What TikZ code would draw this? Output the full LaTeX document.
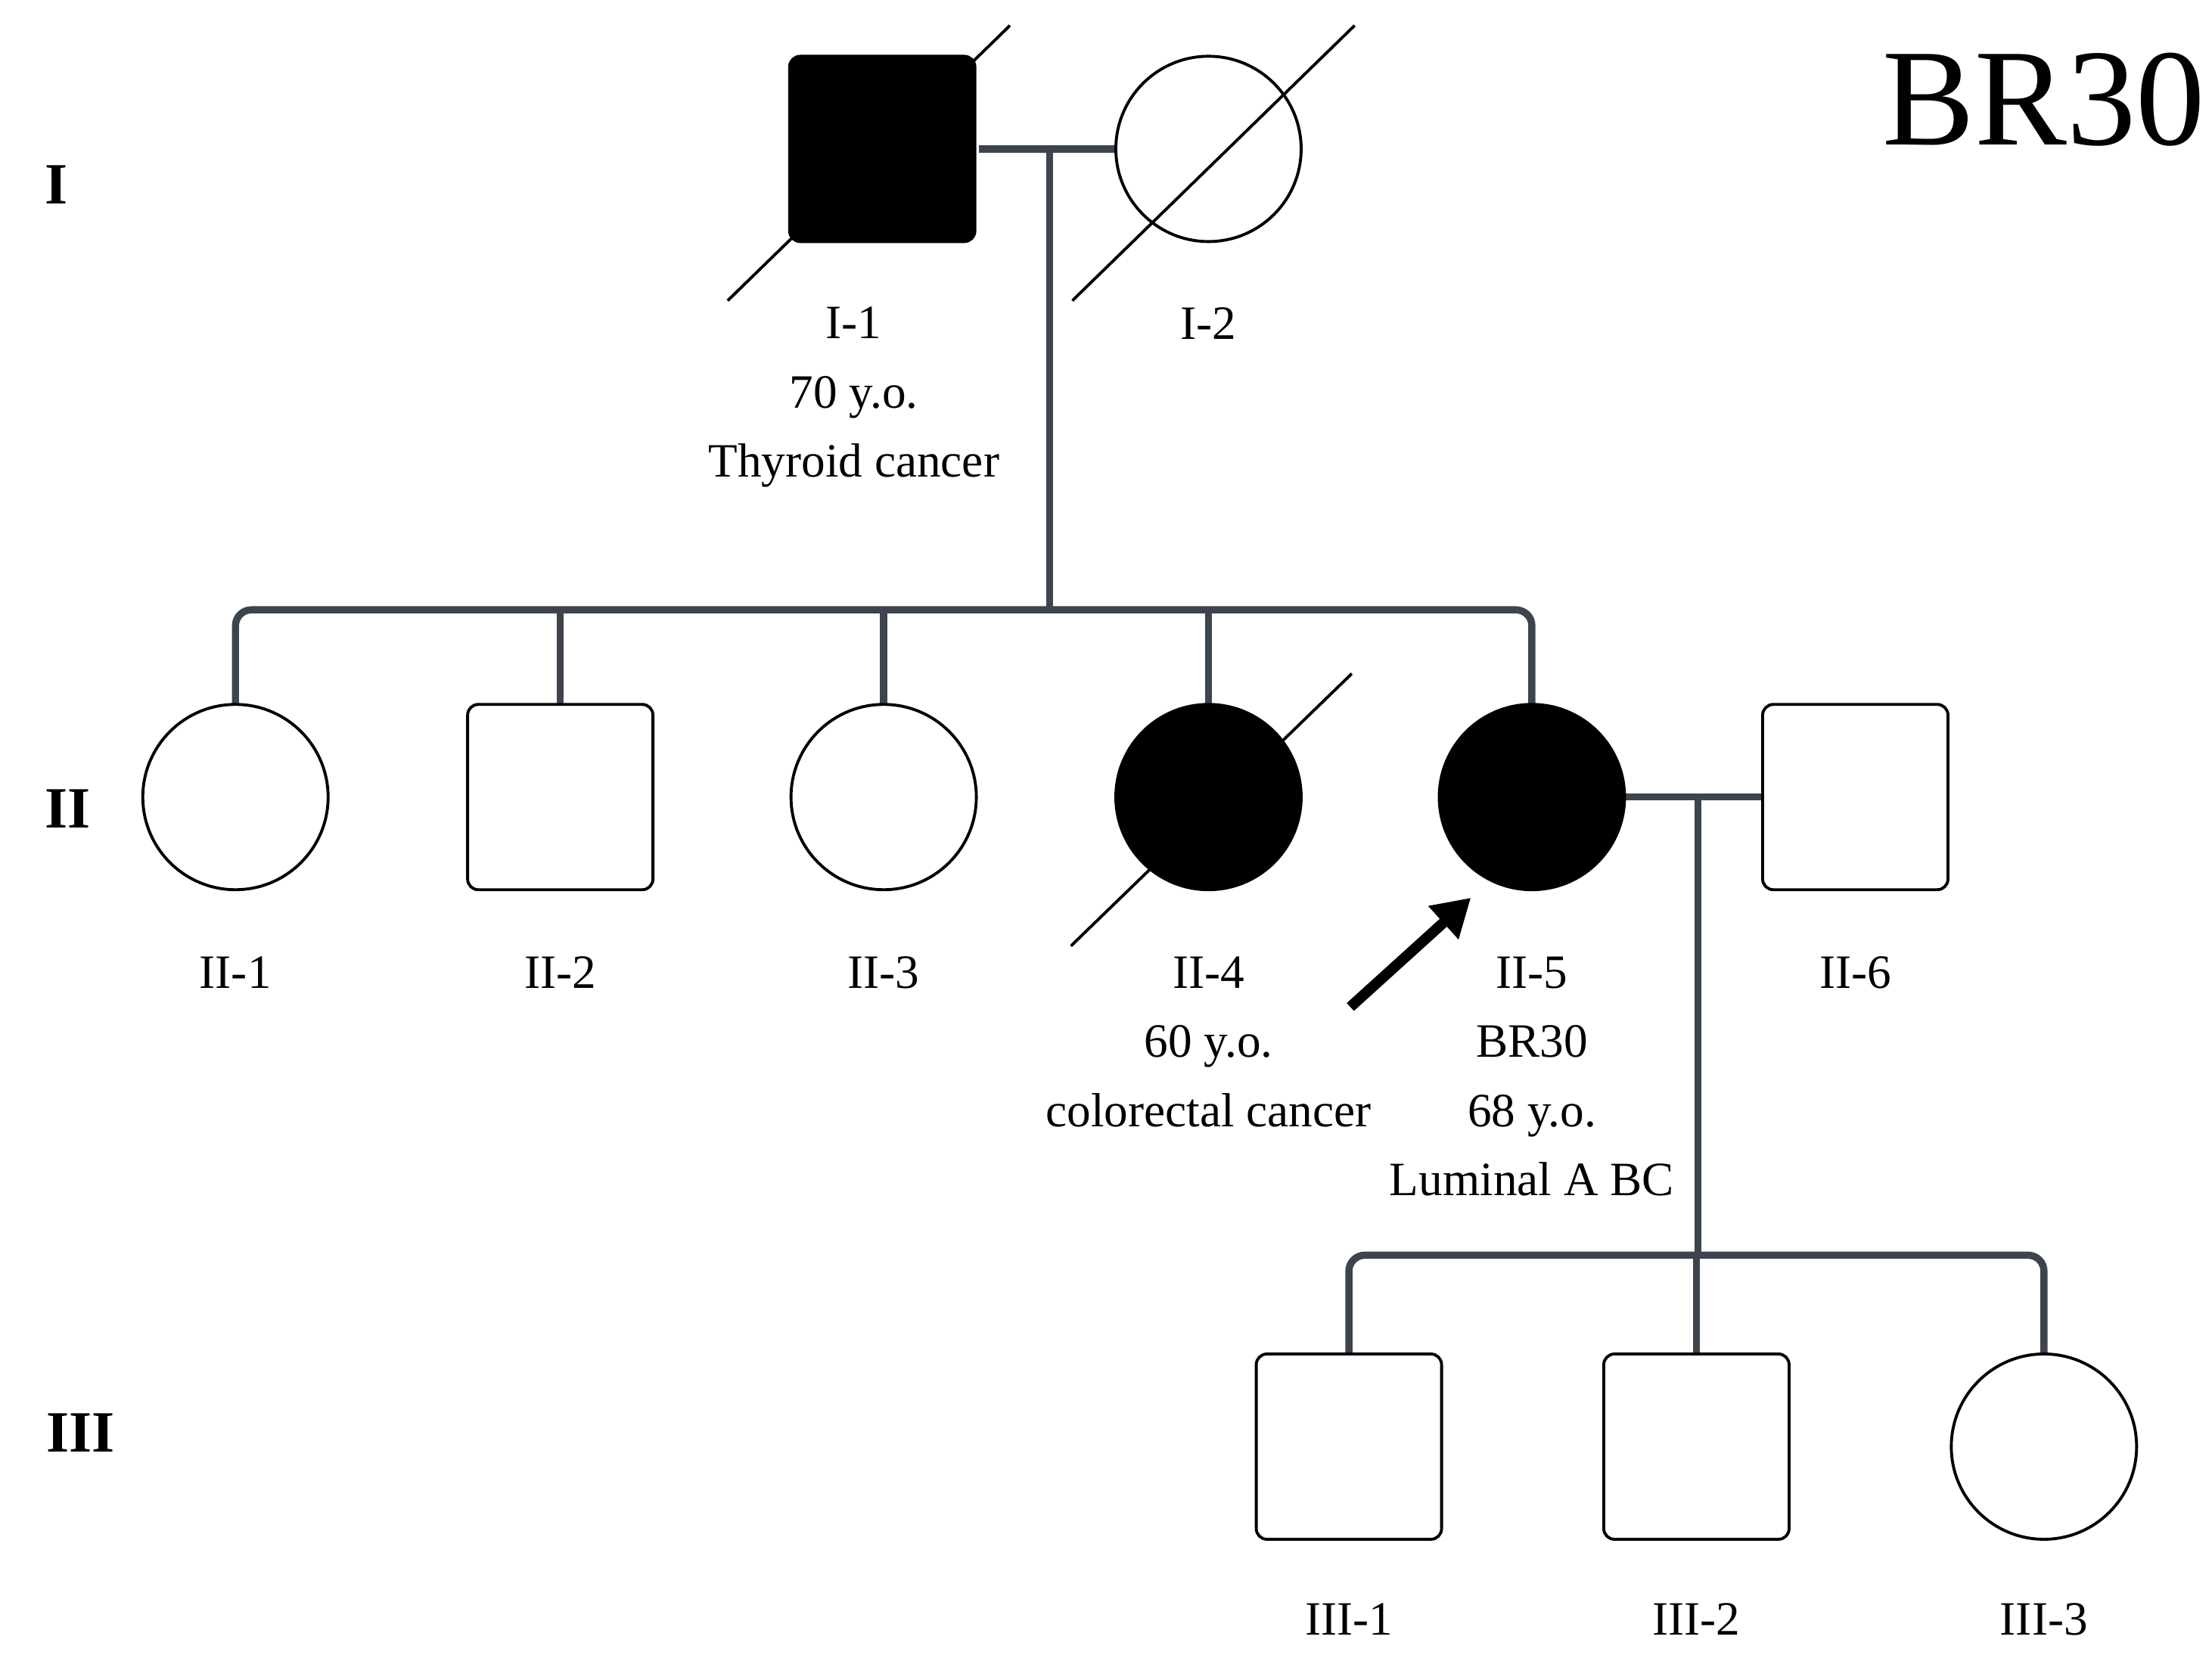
\documentclass[tikz,border=0pt]{standalone}
\usepackage{fontspec}
\setmainfont{Liberation Serif}
\usetikzlibrary{arrows.meta}
\definecolor{ln}{HTML}{3D444D}
\begin{document}
\begin{tikzpicture}[x=0.01875cm,y=-0.01875cm,
  sq/.style={draw=black,line width=1.1pt,rounded corners=4pt,minimum size=2.45cm,inner sep=0pt,fill=white},
  ci/.style={draw=black,line width=1.1pt,circle,minimum size=2.45cm,inner sep=0pt,fill=white},
  aff/.style={fill=black},
  rel/.style={draw=ln,line width=2.7pt,rounded corners=6pt},
  lab/.style={font=\fontsize{18}{22}\selectfont,align=center},
  gen/.style={font=\bfseries\fontsize{22}{26}\selectfont},
  slash/.style={draw=black,line width=1.1pt}]
\useasboundingbox (0,0) rectangle (1559.5,1184.5);
% generation I
\coordinate (m1) at (740,105);
\coordinate (s1) at (740,430);
\draw[rel] (690,105) -- (786,105);
\draw[rel] (m1) -- (s1);
\coordinate (m2) at (1197,562);
\coordinate (s2) at (1197,885);
\draw[rel] (1146,562) -- (1243,562);
\draw[rel] (m2) -- (s2);
\draw[rel] (166,500) -- (166,430) -- (1080,430) -- (1080,500);
\foreach \x in {395,623,852} \draw[rel] (\x,430) -- (\x,500);
\draw[rel] (951,955) -- (951,885) -- (1441,885) -- (1441,955);
\draw[rel] (1196,885) -- (1196,955);
\node[sq,aff] (I1) at (622,105) {};
\node[ci] (I2) at (852,105) {};
\draw[slash] (513,212) -- (712,18);
\draw[slash] (756,212) -- (955,18);
\node[ci] (II1) at (166,562) {};
\node[sq] (II2) at (395,562) {};
\node[ci] (II3) at (623,562) {};
\node[ci,aff] (II4) at (852,562) {};
\node[ci,aff] (II5) at (1080,562) {};
\node[sq] (II6) at (1308,562) {};
\draw[slash] (755,667) -- (953,475);
\node[sq] (III1) at (951,1020) {};
\node[sq] (III2) at (1196,1020) {};
\node[ci] (III3) at (1441,1020) {};
% labels
\node[lab,anchor=north] (lI1) at (602,210) {I-1\\[4pt]70 y.o.\\[4pt]Thyroid cancer};
\node[lab,anchor=north] (lI2) at (852,210) {I-2};
\foreach \n/\x in {II-1/166,II-2/395,II-3/623,II-6/1308}
  \node[lab,anchor=north] at (\x,668) {\n};
\node[lab,anchor=north] (lII4) at (852,668) {II-4\\[4pt]60 y.o.\\[4pt]colorectal cancer};
\node[lab,anchor=north] (lII5) at (1080,668) {II-5\\[4pt]BR30\\[4pt]68 y.o.\\[4pt]Luminal A BC};
\foreach \n/\x in {III-1/951,III-2/1196,III-3/1441}
  \node[lab,anchor=north] at (\x,1124) {\n};
\node[gen] at (40,130) {I};
\node[gen] at (48,570) {II};
\node[gen] at (57,1010) {III};
\node[font=\fontsize{52}{60}\selectfont] at (1441,70) {BR30};
\coordinate (a0) at (952,710);
\coordinate (a1) at (1037,633);
\draw[line width=4pt,-{Triangle[length=14pt,width=16pt]}] (a0) -- (a1);
\end{tikzpicture}
\end{document}
